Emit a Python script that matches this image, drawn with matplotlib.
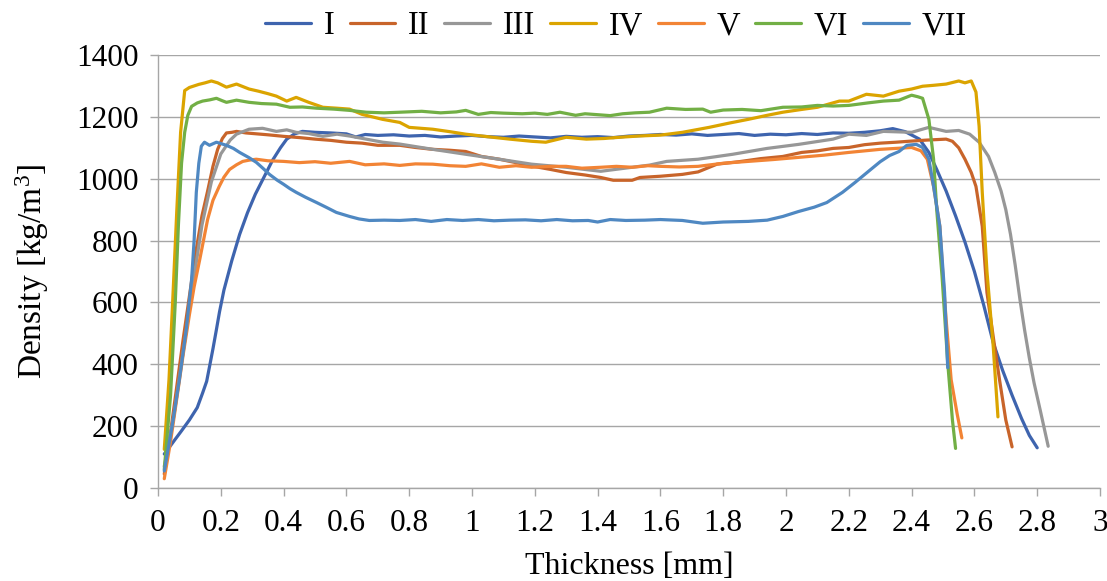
import matplotlib
matplotlib.use("Agg")
import matplotlib.pyplot as plt
from matplotlib.ticker import FuncFormatter, MultipleLocator

plt.rcParams.update({
    "font.family": ["Liberation Serif", "DejaVu Serif"],
    "mathtext.default": "regular",
})

# ---- data (thickness mm, density kg/m3) ----
x_I = [0.02, 0.035, 0.053, 0.075, 0.10, 0.125, 0.142, 0.155, 0.164, 0.175, 0.186, 0.196, 0.21, 0.235,
       0.26, 0.285, 0.31, 0.34, 0.365, 0.39, 0.41, 0.435, 0.46, 0.50, 0.55, 0.60, 0.63, 0.66, 0.70,
       0.75, 0.80, 0.85, 0.90, 0.95, 1.0, 1.05, 1.1, 1.15, 1.2, 1.25, 1.3, 1.35, 1.4, 1.45, 1.5,
       1.55, 1.6, 1.65, 1.7, 1.75, 1.8, 1.85, 1.9, 1.95, 2.0, 2.05, 2.1, 2.15, 2.2, 2.25, 2.3, 2.34,
       2.38, 2.425, 2.455, 2.48, 2.51, 2.54, 2.57, 2.60, 2.63, 2.66, 2.69, 2.72, 2.75, 2.775, 2.80]
y_I = [110, 130, 155, 185, 220, 260, 307, 345, 392, 450, 512, 570, 640, 735,
       820, 890, 950, 1010, 1060, 1100, 1128, 1145, 1153, 1150, 1148, 1145, 1135, 1143, 1140,
       1142, 1138, 1140, 1135, 1138, 1140, 1136, 1134, 1138, 1135, 1132, 1137, 1134, 1136, 1133, 1138,
       1140, 1143, 1141, 1145, 1140, 1143, 1146, 1140, 1144, 1142, 1146, 1143, 1148, 1147, 1150, 1155, 1162,
       1152, 1128, 1085, 1030, 960, 880, 795, 700, 590, 470, 380, 300, 225, 170, 130]

x_II = [0.02, 0.04, 0.06, 0.08, 0.10, 0.12, 0.14, 0.158, 0.175, 0.19, 0.205, 0.218, 0.235, 0.25, 0.28,
        0.35, 0.40, 0.45, 0.50, 0.55, 0.60, 0.65, 0.70, 0.77, 0.82, 0.875, 0.93, 0.98, 1.03, 1.087,
        1.14, 1.19, 1.25, 1.30, 1.36, 1.41, 1.45, 1.51, 1.535, 1.60, 1.67, 1.72, 1.78, 1.85, 1.92,
        1.99, 2.05, 2.10, 2.15, 2.20, 2.25, 2.30, 2.35, 2.39, 2.45, 2.51, 2.53, 2.55, 2.57, 2.59,
        2.605, 2.625, 2.64, 2.66, 2.68, 2.70, 2.72]
y_II = [45, 180, 330, 480, 620, 760, 880, 960, 1040, 1095, 1130, 1148, 1150, 1153, 1148,
        1142, 1137, 1133, 1128, 1124, 1118, 1115, 1108, 1108, 1101, 1095, 1092, 1088, 1072, 1063,
        1052, 1041, 1030, 1020, 1012, 1004, 995, 995, 1004, 1008, 1014, 1022, 1047, 1055, 1065,
        1072, 1085, 1090, 1098, 1101, 1110, 1115, 1118, 1121, 1125, 1128, 1121, 1100, 1063, 1020,
        975, 846, 632, 489, 350, 220, 133]

x_III = [0.02, 0.05, 0.08, 0.11, 0.14, 0.17, 0.20, 0.23, 0.25, 0.29, 0.333, 0.377, 0.41, 0.44, 0.48,
         0.525, 0.57, 0.61, 0.663, 0.716, 0.77, 0.875, 0.98, 1.087, 1.19, 1.30, 1.41, 1.51, 1.565,
         1.62, 1.72, 1.83, 1.94, 2.04, 2.15, 2.20, 2.256, 2.31, 2.40, 2.455, 2.51, 2.55, 2.585, 2.615,
         2.645, 2.665, 2.685, 2.70, 2.715, 2.73, 2.745, 2.76, 2.775, 2.79, 2.81, 2.835]
y_III = [70, 230, 440, 650, 850, 990, 1080, 1125, 1144, 1160, 1163, 1153, 1158, 1150, 1146,
         1137, 1144, 1138, 1128, 1118, 1112, 1095, 1079, 1063, 1047, 1037, 1024, 1037, 1044,
         1056, 1063, 1079, 1098, 1111, 1128, 1144, 1140, 1153, 1150, 1166, 1153, 1156, 1144, 1118,
         1072, 1020, 960, 900, 820, 720, 610, 510, 420, 340, 250, 135]

x_IV = [0.02, 0.035, 0.047, 0.06, 0.072, 0.085, 0.10, 0.13, 0.15, 0.17, 0.19, 0.218, 0.25, 0.29, 0.32,
        0.35, 0.377, 0.41, 0.44, 0.48, 0.525, 0.57, 0.61, 0.65, 0.715, 0.77, 0.80, 0.875, 0.93, 0.98,
        1.066, 1.12, 1.19, 1.235, 1.30, 1.364, 1.42, 1.47, 1.53, 1.60, 1.67, 1.755, 1.82, 1.88, 1.94,
        1.99, 2.05, 2.10, 2.17, 2.20, 2.256, 2.31, 2.36, 2.40, 2.435, 2.47, 2.51, 2.55, 2.57, 2.59,
        2.605, 2.615, 2.625, 2.64, 2.66, 2.675]
y_IV = [125, 350, 609, 900, 1150, 1285, 1295, 1305, 1310, 1316, 1310, 1296, 1306, 1290, 1283,
        1275, 1267, 1251, 1263, 1247, 1231, 1228, 1225, 1208, 1192, 1182, 1166, 1160, 1152, 1144,
        1134, 1128, 1121, 1118, 1134, 1128, 1130, 1134, 1138, 1141, 1150, 1166, 1180, 1192, 1205,
        1215, 1224, 1231, 1251, 1251, 1273, 1267, 1283, 1290, 1299, 1302, 1306, 1316, 1310, 1316,
        1280, 1170, 956, 700, 457, 230]

x_V = [0.02, 0.04, 0.06, 0.08, 0.10, 0.115, 0.133, 0.158, 0.175, 0.195, 0.21, 0.228, 0.25, 0.27, 0.29,
       0.313, 0.35, 0.40, 0.45, 0.50, 0.55, 0.61, 0.66, 0.72, 0.77, 0.82, 0.875, 0.93, 0.98, 1.03,
       1.087, 1.14, 1.19, 1.25, 1.30, 1.35, 1.41, 1.46, 1.51, 1.56, 1.60, 1.66, 1.72, 1.80, 1.88,
       1.96, 2.04, 2.12, 2.20, 2.30, 2.35, 2.40, 2.43, 2.45, 2.47, 2.49, 2.50, 2.51, 2.526, 2.545, 2.56]
y_V = [30, 150, 290, 430, 560, 650, 739, 868, 930, 975, 1005, 1030, 1045, 1056, 1060,
       1063, 1058, 1056, 1052, 1055, 1050, 1056, 1045, 1048, 1043, 1048, 1047, 1042, 1040, 1048,
       1037, 1042, 1037, 1040, 1040, 1034, 1037, 1040, 1037, 1042, 1040, 1038, 1040, 1050, 1056,
       1062, 1069, 1076, 1085, 1095, 1098, 1101, 1090, 1063, 975, 846, 684, 544, 350, 240, 162]

x_VI = [0.02, 0.04, 0.055, 0.065, 0.075, 0.085, 0.095, 0.107, 0.125, 0.142, 0.165, 0.186, 0.205, 0.218,
        0.25, 0.29, 0.33, 0.377, 0.42, 0.46, 0.505, 0.56, 0.61, 0.663, 0.72, 0.77, 0.84, 0.90, 0.95,
        0.98, 1.02, 1.06, 1.10, 1.16, 1.20, 1.24, 1.28, 1.33, 1.36, 1.40, 1.44, 1.48, 1.52, 1.565,
        1.62, 1.68, 1.735, 1.76, 1.80, 1.86, 1.92, 1.99, 2.05, 2.10, 2.15, 2.20, 2.26, 2.31, 2.36,
        2.40, 2.42, 2.435, 2.455, 2.47, 2.48, 2.497, 2.515, 2.53, 2.54]
y_VI = [60, 300, 600, 850, 1050, 1150, 1205, 1234, 1245, 1251, 1255, 1260, 1252, 1247,
        1254, 1247, 1243, 1241, 1231, 1232, 1228, 1225, 1221, 1215, 1213, 1215, 1218, 1213, 1216,
        1221, 1208, 1214, 1212, 1210, 1212, 1208, 1215, 1205, 1210, 1207, 1204, 1210, 1213, 1215,
        1228, 1224, 1225, 1215, 1222, 1224, 1220, 1231, 1232, 1237, 1235, 1237, 1245, 1251, 1254,
        1270, 1265, 1260, 1192, 1063, 900, 684, 405, 220, 128]

x_VII = [0.02, 0.045, 0.068, 0.09, 0.107, 0.115, 0.122, 0.13, 0.138, 0.148, 0.164, 0.186, 0.218, 0.24,
         0.26, 0.29, 0.313, 0.335, 0.355, 0.38, 0.40, 0.42, 0.44, 0.47, 0.505, 0.535, 0.568, 0.61,
         0.64, 0.673, 0.72, 0.77, 0.82, 0.87, 0.92, 0.97, 1.02, 1.07, 1.12, 1.17, 1.22, 1.27, 1.32,
         1.37, 1.40, 1.44, 1.49, 1.55, 1.60, 1.67, 1.735, 1.80, 1.88, 1.94, 1.99, 2.04, 2.09, 2.13,
         2.18, 2.22, 2.27, 2.30, 2.33, 2.36, 2.385, 2.415, 2.435, 2.455, 2.47, 2.49, 2.505, 2.51, 2.515]
y_VII = [55, 200, 350, 512, 674, 800, 956, 1050, 1105, 1118, 1108, 1118, 1108, 1098,
         1085, 1068, 1053, 1033, 1014, 995, 982, 968, 956, 940, 923, 908, 891, 878,
         870, 865, 866, 865, 868, 862, 868, 865, 868, 864, 866, 867, 864, 868, 864,
         865, 860, 868, 865, 866, 868, 865, 856, 860, 862, 866, 878, 894, 908, 923,
         956, 988, 1030, 1055, 1075, 1088, 1108, 1111, 1101, 1063, 975, 846, 632, 512, 389]

series = [
    ("I", x_I, y_I, "#3E64AE"),
    ("II", x_II, y_II, "#C8642A"),
    ("III", x_III, y_III, "#979797"),
    ("IV", x_IV, y_IV, "#DBA400"),
    ("V", x_V, y_V, "#F28435"),
    ("VI", x_VI, y_VI, "#72AF45"),
    ("VII", x_VII, y_VII, "#4F88C2"),
]

W, H = 1107, 581
fig = plt.figure(figsize=(W / 100, H / 100), dpi=100)
ax = fig.add_axes([158 / W, (H - 488) / H, (1100 - 158) / W, (488 - 55) / H])

for name, xs, ys, col in series:
    ax.plot(xs, ys, color=col, lw=2.3, label=name, solid_capstyle="round")

ax.set_xlim(0, 3)
ax.set_ylim(0, 1400)
ax.xaxis.set_major_locator(MultipleLocator(0.2))
ax.yaxis.set_major_locator(MultipleLocator(200))
ax.xaxis.set_major_formatter(FuncFormatter(lambda v, p: f"{round(v, 1):g}"))

grid_col = "#A6A6A6"
ax.grid(axis="y", color=grid_col, lw=1.0)
ax.set_axisbelow(True)
for s in ("top", "right"):
    ax.spines[s].set_visible(False)
for s in ("left", "bottom"):
    ax.spines[s].set_color(grid_col)
    ax.spines[s].set_linewidth(1.0)
ax.tick_params(axis="both", direction="out", length=6, width=1.0, color=grid_col,
               labelsize=22.5)
ax.tick_params(axis="y", pad=8)
ax.tick_params(axis="x", pad=9)

ax.set_xlabel("Thickness [mm]", fontsize=23, labelpad=10)
ax.set_ylabel("Density [kg/m$^3$]", fontsize=24, labelpad=18)

ax.legend(loc="upper center", bbox_to_anchor=(616 / W, 1.01), bbox_transform=fig.transFigure,
          ncol=7, frameon=False, fontsize=23.5, handlelength=1.4, handletextpad=0.4,
          columnspacing=0.45, borderaxespad=0.1)

fig.savefig("out.png", dpi=100)
